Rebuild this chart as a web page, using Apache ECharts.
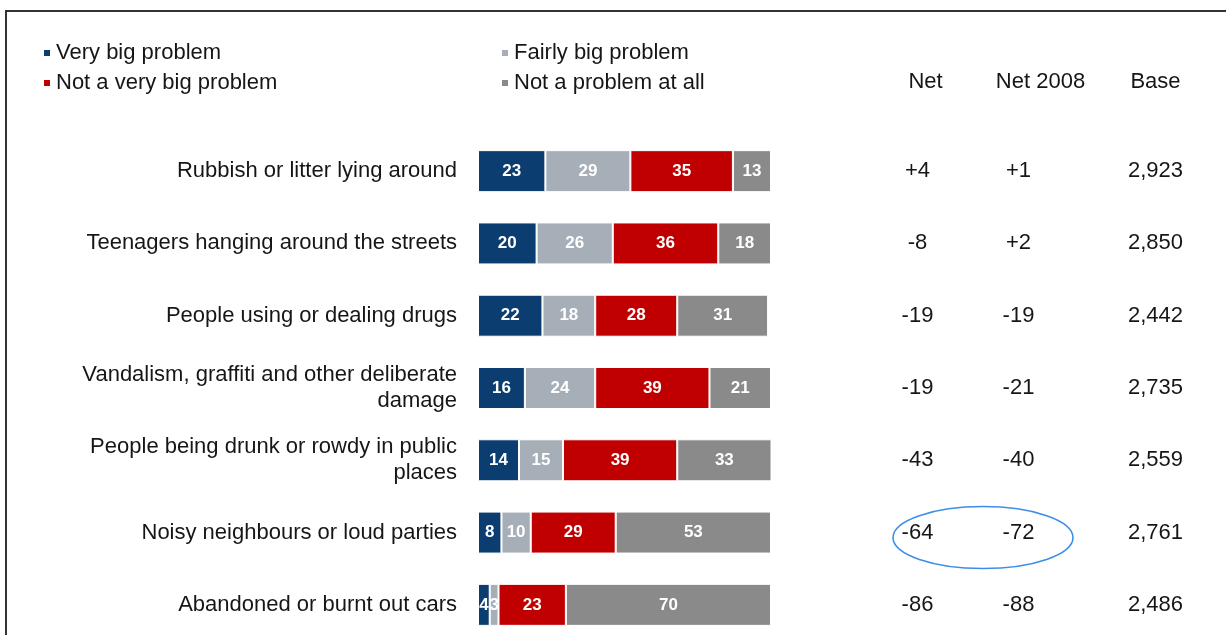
<!DOCTYPE html>
<html>
<head>
<meta charset="utf-8">
<script src="https://cdn.jsdelivr.net/npm/echarts@6/dist/echarts.min.js"></script>
<style>
html,body{margin:0;padding:0;background:#fff;overflow:hidden;}
#chart{width:1226px;height:650px;}
</style>
</head>
<body>
<div id="chart"></div>
<script>
// categories, top to bottom
var categories = [
	'Rubbish or litter lying around',
	'Teenagers hanging around the streets',
	'People using or dealing drugs',
	'Vandalism, graffiti and other deliberate\ndamage',
	'People being drunk or rowdy in public\nplaces',
	'Noisy neighbours or loud parties',
	'Abandoned or burnt out cars'
];
var veryBig = [23, 20, 22, 16, 14, 8, 4];
var fairlyBig = [29, 26, 18, 24, 15, 10, 3];
var notVeryBig = [35, 36, 28, 39, 39, 29, 23];
var notAtAll = [13, 18, 31, 21, 33, 53, 70];

var columns = ['Net', 'Net 2008', 'Base'];
var net = [4, -8, -19, -19, -43, -64, -86];
var net2008 = [1, 2, -19, -21, -40, -72, -88];
var base = [2923, 2850, 2442, 2735, 2559, 2761, 2486];

var FONT = '"Liberation Sans", Arial, sans-serif';
var TXT = '#161616';

function signed(v){
	return v > 0 ? '+' + v : String(v);
}
function thousands(v){
	return String(v).replace(/\B(?=(\d{3})+(?!\d))/g, ',');
}

function barSeries(name, data, color){
	return {
		name: name,
		type: 'bar',
		stack: 'total',
		xAxisIndex: 0,
		yAxisIndex: 0,
		barWidth: 42,
		data: data,
		itemStyle: { color: color, borderColor: '#fff', borderWidth: 1 },
		label: {
			show: true,
			color: '#fff',
			fontFamily: FONT,
			fontWeight: 'bold',
			fontSize: 17
		}
	};
}

function colSeries(colIdx, values, fmt, dx){
	return {
		type: 'scatter',
		xAxisIndex: 1,
		yAxisIndex: 1,
		symbolSize: 0,
		silent: true,
		data: values.map(function(v, i){ return [columns[colIdx], categories[i], v]; }),
		itemStyle: { opacity: 1 },
		label: {
			show: true,
			position: 'inside',
			offset: [dx, 0],
			color: TXT,
			textBorderWidth: 0,
			fontFamily: FONT,
			fontSize: 22,
			formatter: function(p){ return fmt(p.value[2]); }
		}
	};
}

var myChart = echarts.init(document.getElementById('chart'));

var legendText = { color: TXT, fontFamily: FONT, fontSize: 22, lineHeight: 22 };

var option = {
	animation: false,
	backgroundColor: '#fff',
	legend: [{
		orient: 'vertical',
		left: 37,
		top: 37,
		itemWidth: 8,
		itemHeight: 8,
		itemGap: 8,
		icon: 'rect',
		textStyle: legendText,
		data: ['Very big problem', 'Not a very big problem']
	}, {
		orient: 'vertical',
		left: 495,
		top: 37,
		itemWidth: 8,
		itemHeight: 8,
		itemGap: 8,
		icon: 'rect',
		textStyle: legendText,
		data: ['Fairly big problem', 'Not a problem at all']
	}],
	grid: [
		{ left: 478, top: 135, width: 293, height: 506 },
		{ left: 868, top: 135, width: 345, height: 506 }
	],
	xAxis: [{
		type: 'value',
		gridIndex: 0,
		min: 0,
		max: 100,
		show: false
	}, {
		type: 'category',
		gridIndex: 1,
		position: 'top',
		data: columns,
		axisLine: { show: false },
		axisTick: { show: false },
		splitLine: { show: false },
		axisLabel: { interval: 0, color: TXT, fontFamily: FONT, fontSize: 22, margin: 42 }
	}],
	yAxis: [{
		type: 'category',
		gridIndex: 0,
		inverse: true,
		data: categories,
		axisLine: { show: false },
		axisTick: { show: false },
		axisLabel: {
			interval: 0,
			color: TXT,
			fontFamily: FONT,
			fontSize: 22,
			lineHeight: 26,
			margin: 21,
			align: 'right'
		}
	}, {
		type: 'category',
		gridIndex: 1,
		inverse: true,
		data: categories,
		show: false
	}],
	series: [
		barSeries('Very big problem', veryBig, '#0b3d70'),
		barSeries('Fairly big problem', fairlyBig, '#a6aeb7'),
		barSeries('Not a very big problem', notVeryBig, '#c00000'),
		barSeries('Not a problem at all', notAtAll, '#8a8a8a'),
		colSeries(0, net, signed, -8),
		colSeries(1, net2008, signed, -22),
		colSeries(2, base, thousands, 0)
	]
};
myChart.setOption(option);

// frame + highlight ellipse round the noisy neighbours net figures
var pA = myChart.convertToPixel({ xAxisIndex: 1, yAxisIndex: 1 }, [columns[0], categories[5]]);
var pB = myChart.convertToPixel({ xAxisIndex: 1, yAxisIndex: 1 }, [columns[1], categories[5]]);
myChart.setOption({
	graphic: [{
		type: 'polyline',
		shape: { points: [[6, 650], [6, 11], [1226, 11]] },
		style: { fill: null, stroke: '#333', lineWidth: 2 },
		silent: true
	}, {
		type: 'ellipse',
		shape: { cx: (pA[0] + pB[0]) / 2, cy: pA[1] + 5, rx: 90, ry: 31 },
		style: { fill: null, stroke: '#3b8fea', lineWidth: 1.6 },
		silent: true
	}]
});
</script>
</body>
</html>
